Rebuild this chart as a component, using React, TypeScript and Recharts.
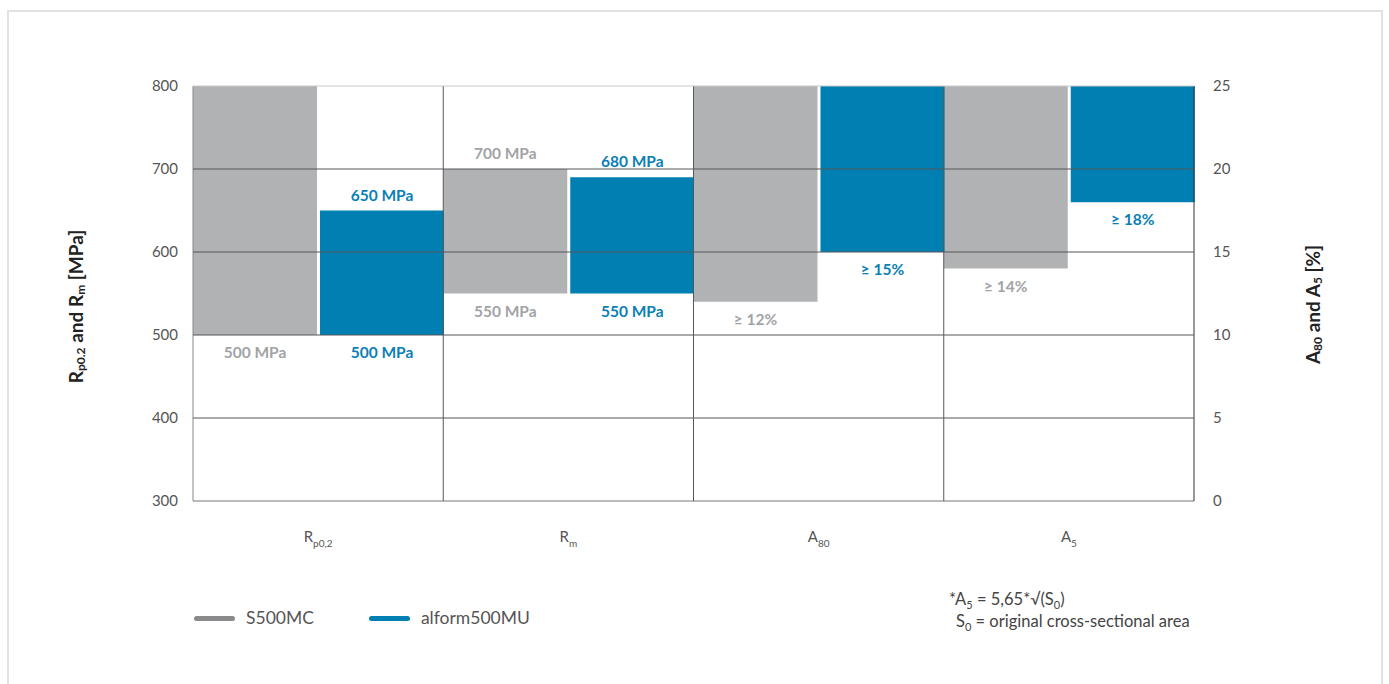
import React from 'react';
import {
  ComposedChart,
  Bar,
  XAxis,
  YAxis,
  CartesianGrid,
  ReferenceLine,
  LabelList,
} from 'recharts';

// ---------- data ----------
const categories = ['Rp0,2', 'Rm', 'A80', 'A5'];
const tickBase = ['R', 'R', 'A', 'A'];
const tickSub = ['p0,2', 'm', '80', '5'];

// strength values [MPa] (left axis) - [low, high]
const s500Mpa: (number[] | null)[] = [[500, 800], [550, 700], null, null];
const alformMpa: (number[] | null)[] = [[500, 650], [550, 690], null, null];
// elongation values [%] (right axis) - [low, high]
const s500Pct: (number[] | null)[] = [null, null, [12, 25], [14, 25]];
const alformPct: (number[] | null)[] = [null, null, [15, 25], [18, 25]];

const s500Top = ['', '700 MPa', '', ''];
const s500Bottom = ['500 MPa', '550 MPa', '≥ 12%', '≥ 14%'];
const alformTop = ['650 MPa', '680 MPa', '', ''];
const alformBottom = ['500 MPa', '550 MPa', '≥ 15%', '≥ 18%'];

const leftTicks = [300, 400, 500, 600, 700, 800];
const rightTicks = [0, 5, 10, 15, 20, 25];
const gridValues = [400, 500, 600, 700];

const seriesNames = ['S500MC', 'alform500MU'];

const GRAY = '#b1b2b4';
const BLUE = '#0080b2';
const GRAY_TEXT = '#a2a3a5';
const BLUE_TEXT = '#0a80b6';
const LEGEND_GRAY = '#8a8a8d';
const FONT = 'Lato, "Noto Sans", sans-serif';

const data = categories.map((c, i) => ({
  cat: c,
  s500Mpa: s500Mpa[i],
  alformMpa: alformMpa[i],
  s500Pct: s500Pct[i],
  alformPct: alformPct[i],
  s500Top: s500Top[i],
  s500Bottom: s500Bottom[i],
  alformTop: alformTop[i],
  alformBottom: alformBottom[i],
}));

// ---------- helpers ----------
const makeLabel = (where: 'top' | 'bottom', color: string) => (props: any) => {
  const { x, y, width, height, value } = props;
  if (x == null || height == null || !width || !value) return null;
  const cx = x + width / 2;
  const yTop = Math.min(y, y + height);
  const yBot = Math.max(y, y + height);
  const ty = where === 'top' ? yTop - 16 : yBot + 17;
  return (
    <text x={cx} y={ty} textAnchor="middle" dominantBaseline="central" fill={color} fontSize={15.5} fontWeight={700} fontFamily={FONT}>
      {value}
    </text>
  );
};

const XTick = (props: any) => {
  const { x, y, index } = props;
  return (
    <text x={x} y={y + 41} textAnchor="middle" fill="#555" fontSize={15} fontFamily={FONT}>
      <tspan>{tickBase[index]}</tspan>
      <tspan dy={5} fontSize={10}>{tickSub[index]}</tspan>
    </text>
  );
};

const LeftTitle = (props: any) => {
  const vb = props.viewBox || { x: 0, y: 0, width: 0, height: 0 };
  const cx = vb.x + 2;
  const cy = vb.y + vb.height / 2 + 13;
  return (
    <text x={cx} y={cy} transform={`rotate(-90, ${cx}, ${cy})`} textAnchor="middle" dominantBaseline="central" fill="#222" fontSize={19} fontWeight={700} fontFamily={FONT}>
      <tspan>R</tspan>
      <tspan dy={5} fontSize={12}>p0.2</tspan>
      <tspan dy={-5}> and R</tspan>
      <tspan dy={5} fontSize={12}>m</tspan>
      <tspan dy={-5}> [MPa]</tspan>
    </text>
  );
};

const RightTitle = (props: any) => {
  const vb = props.viewBox || { x: 0, y: 0, width: 0, height: 0 };
  const cx = vb.x + vb.width - 2;
  const cy = vb.y + vb.height / 2 + 11;
  return (
    <text x={cx} y={cy} transform={`rotate(-90, ${cx}, ${cy})`} textAnchor="middle" dominantBaseline="central" fill="#222" fontSize={19} fontWeight={700} fontFamily={FONT}>
      <tspan>A</tspan>
      <tspan dy={5} fontSize={12}>80</tspan>
      <tspan dy={-5}> and A</tspan>
      <tspan dy={5} fontSize={12}>5</tspan>
      <tspan dy={-5}> [%]</tspan>
    </text>
  );
};

const vGen = (p: any) => {
  const off = p.offset || {};
  const n = categories.length;
  const res: number[] = [];
  for (let k = 1; k < n; k++) res.push(off.left + (off.width * k) / n);
  return res;
};

const hGen = (p: any) => {
  const ya = p.yAxis;
  if (ya && typeof ya.scale === 'function') return gridValues.map((v) => ya.scale(v));
  const off = p.offset || {};
  return gridValues.map((v) => off.top + off.height * (1 - (v - 300) / 500));
};

const Sub = ({ children }: { children: React.ReactNode }) => (
  <span style={{ fontSize: 11, position: 'relative', top: 4 }}>{children}</span>
);

export default function App() {
  return (
    <div style={{ position: 'absolute', left: 0, top: 0, width: 1389, height: 684, overflow: 'hidden', background: '#fff' }}>
      <div style={{ position: 'absolute', left: 7, top: 10, width: 1372, height: 700, border: '2px solid #e2e2e2' }} />
      <div style={{ position: 'absolute', left: 0, top: 0 }}>
        <ComposedChart
          width={1389}
          height={684}
          data={data}
          margin={{ top: 86, left: 73, right: 75, bottom: 143 }}
          barCategoryGap={0}
          barGap={3}
        >
          <XAxis xAxisId="mpa" dataKey="cat" axisLine={{ stroke: '#777' }} tickLine={false} tickSize={0} tickMargin={0} tick={<XTick />} height={40} interval={0} />
          <XAxis xAxisId="pct" dataKey="cat" hide />
          <YAxis
            yAxisId="left"
            domain={[300, 800]}
            ticks={leftTicks}
            width={120}
            axisLine={{ stroke: '#888' }}
            tickLine={false}
            tickSize={0}
            tickMargin={15}
            tick={{ fill: '#555', fontSize: 15, fontFamily: FONT }}
            label={<LeftTitle />}
          />
          <YAxis
            yAxisId="right"
            orientation="right"
            domain={[0, 25]}
            ticks={rightTicks}
            width={120}
            axisLine={{ stroke: '#333' }}
            tickLine={false}
            tickSize={0}
            tickMargin={19}
            tick={{ fill: '#555', fontSize: 15, fontFamily: FONT, textAnchor: 'start' }}
            label={<RightTitle />}
          />
          <Bar xAxisId="mpa" yAxisId="left" dataKey="s500Mpa" fill={GRAY} isAnimationActive={false} name={seriesNames[0]}>
            <LabelList dataKey="s500Top" content={makeLabel('top', GRAY_TEXT)} />
            <LabelList dataKey="s500Bottom" content={makeLabel('bottom', GRAY_TEXT)} />
          </Bar>
          <Bar xAxisId="mpa" yAxisId="left" dataKey="alformMpa" fill={BLUE} isAnimationActive={false} name={seriesNames[1]}>
            <LabelList dataKey="alformTop" content={makeLabel('top', BLUE_TEXT)} />
            <LabelList dataKey="alformBottom" content={makeLabel('bottom', BLUE_TEXT)} />
          </Bar>
          <Bar xAxisId="pct" yAxisId="right" dataKey="s500Pct" fill={GRAY} isAnimationActive={false} name={seriesNames[0]}>
            <LabelList dataKey="s500Top" content={makeLabel('top', GRAY_TEXT)} />
            <LabelList dataKey="s500Bottom" content={makeLabel('bottom', GRAY_TEXT)} />
          </Bar>
          <Bar xAxisId="pct" yAxisId="right" dataKey="alformPct" fill={BLUE} isAnimationActive={false} name={seriesNames[1]}>
            <LabelList dataKey="alformTop" content={makeLabel('top', BLUE_TEXT)} />
            <LabelList dataKey="alformBottom" content={makeLabel('bottom', BLUE_TEXT)} />
          </Bar>
          <CartesianGrid
            xAxisId="mpa"
            yAxisId="left"
            stroke="#56575a"
            strokeDasharray=""
            verticalCoordinatesGenerator={vGen}
            horizontalCoordinatesGenerator={hGen}
            zIndex={500}
          />
          <ReferenceLine xAxisId="mpa" yAxisId="left" y={800} stroke="#c9c9c9" zIndex={500} />
        </ComposedChart>
      </div>
      {/* legend */}
      <div style={{ position: 'absolute', left: 194, top: 607, display: 'flex', alignItems: 'center', fontFamily: FONT, fontSize: 17.5, color: '#555', lineHeight: '22px' }}>
        {seriesNames.map((n, i) => (
          <div key={n} style={{ display: 'flex', alignItems: 'center', marginRight: 55 }}>
            <div style={{ width: 41, height: 5, borderRadius: 3, background: i === 0 ? LEGEND_GRAY : BLUE, marginRight: 11 }} />
            <span>{n}</span>
          </div>
        ))}
      </div>
      {/* footnote */}
      <div style={{ position: 'absolute', left: 949, top: 589, fontFamily: FONT, fontSize: 16.5, color: '#444', lineHeight: '21px' }}>
        <div>
          *A<Sub>5</Sub> = 5,65*√(S<Sub>0</Sub>)
        </div>
        <div style={{ paddingLeft: 7 }}>
          S<Sub>0</Sub> = original cross-sectional area
        </div>
      </div>
    </div>
  );
}
